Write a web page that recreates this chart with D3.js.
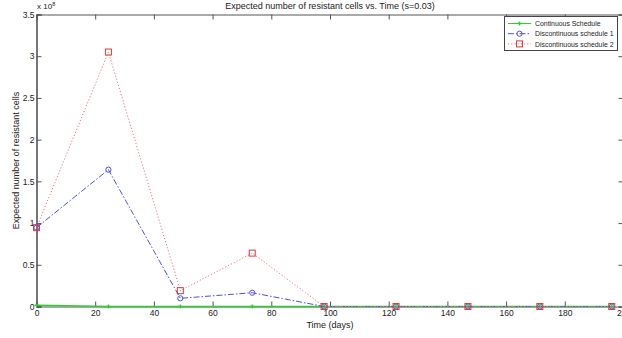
<!DOCTYPE html>
<html>
<head>
<meta charset="utf-8">
<script src="https://cdn.jsdelivr.net/npm/d3@7"></script>
<style>
  body { margin: 0; background: #fff; }
  svg { display: block; font-family: "Liberation Sans", Arial, sans-serif; }
  .axis text { font-size: 8.5px; fill: #222; }
  .axis path, .axis line { stroke: #555; }
</style>
</head>
<body>
<svg id="chart" width="622" height="338"></svg>
<script>
// x values (days) and expected resistant cells in units of 1e8
const days = [0, 24.5, 49, 73.5, 98, 122.5, 147, 171.5, 196]
const continuous = [0.015, 0, 0, 0, 0, 0, 0, 0, 0]
const discontinuous1 = [0.945, 1.64, 0.098, 0.165, 0, 0, 0, 0, 0]
const discontinuous2 = [0.945, 3.05, 0.19, 0.64, 0, 0, 0, 0, 0]
const xTicks = [0, 20, 40, 60, 80, 100, 120, 140, 160, 180, 200]
const yTicks = [0, 0.5, 1, 1.5, 2, 2.5, 3, 3.5]
const seriesNames = ['Continuous Schedule', 'Discontinuous schedule 1', 'Discontinuous schedule 2']

const svg = d3.select('#chart')
const margin = { top: 14.5, right: -1.5, bottom: 31.5, left: 36.5 }
const width = 622
const height = 338

const x = d3.scaleLinear().domain([0, 200]).range([margin.left, width - margin.right])
const y = d3.scaleLinear().domain([0, 3.5]).range([height - margin.bottom, margin.top])

// frame axes (ticks point inward like matlab)
svg.append('g').attr('class', 'axis')
  .attr('transform', `translate(0,${y(0)})`)
  .call(d3.axisBottom(x).tickValues(xTicks).tickSize(-5).tickPadding(3.5).tickFormat(d => d))
svg.append('g').attr('class', 'axis')
  .attr('transform', `translate(0,${y(3.5)})`)
  .call(d3.axisTop(x).tickValues(xTicks).tickSize(-5).tickFormat(''))
svg.append('g').attr('class', 'axis left')
  .attr('transform', `translate(${x(0)},0)`)
  .call(d3.axisLeft(y).tickValues(yTicks).tickSize(-5).tickPadding(2).tickFormat(d => d))
svg.append('g').attr('class', 'axis')
  .attr('transform', `translate(${x(200)},0)`)
  .call(d3.axisRight(y).tickValues(yTicks).tickSize(-5).tickFormat(''))
svg.select('.left .domain').attr('stroke', '#999').attr('stroke-width', 1.6)

const series = [
  { name: seriesNames[0], values: continuous, color: '#2ad02a', dash: null, marker: 'star' },
  { name: seriesNames[1], values: discontinuous1, color: '#5050dc', dash: '6,2,1.5,2', marker: 'circle' },
  { name: seriesNames[2], values: discontinuous2, color: '#e47878', dash: '1.2,2', marker: 'square' }
]

const line = d3.line().x((d, i) => x(days[i])).y(d => y(d))

function drawMarker (g, type, cx, cy, color) {
  if (type === 'circle') {
    g.append('circle').attr('cx', cx).attr('cy', cy).attr('r', 2.6)
      .attr('fill', 'none').attr('stroke', color).attr('stroke-width', 1)
  } else if (type === 'square') {
    g.append('rect').attr('x', cx - 3).attr('y', cy - 3).attr('width', 6).attr('height', 6)
      .attr('fill', 'none').attr('stroke', '#dd3a3a').attr('stroke-width', 1)
  } else {
    g.append('path').attr('transform', `translate(${cx},${cy})`)
      .attr('d', d3.symbol(d3.symbolCross, 9)())
      .attr('fill', color)
  }
}

series.forEach(s => {
  svg.append('path')
    .datum(s.values)
    .attr('d', line)
    .attr('fill', 'none')
    .attr('stroke', s.color)
    .attr('stroke-width', s.marker === 'star' ? 1.3 : 1)
    .attr('stroke-dasharray', s.dash)
  const g = svg.append('g')
  s.values.forEach((v, i) => drawMarker(g, s.marker, x(days[i]), y(v), s.color))
})

// title, labels, exponent
svg.append('text').attr('x', x(100)).attr('y', 9).attr('text-anchor', 'middle')
  .attr('font-size', 9).attr('fill', '#222')
  .text('Expected number of resistant cells vs. Time (s=0.03)')
svg.append('text').attr('x', x(100)).attr('y', 328).attr('text-anchor', 'middle')
  .attr('font-size', 9).attr('fill', '#222').text('Time (days)')
svg.append('text').attr('transform', `translate(19,${y(1.75)}) rotate(-90)`)
  .attr('text-anchor', 'middle').attr('font-size', 9).attr('fill', '#222')
  .text('Expected number of resistant cells')
const expo = svg.append('text').attr('x', 37).attr('y', 9).attr('font-size', 8).attr('fill', '#222')
expo.append('tspan').text('x 10')
expo.append('tspan').attr('dy', -3).attr('font-size', 5.5).text('8')

// legend
const legend = svg.append('g')
legend.append('rect').attr('x', 504.5).attr('y', 16.5).attr('width', 113).attr('height', 34)
  .attr('fill', '#fff').attr('stroke', '#444').attr('stroke-width', 1)
series.forEach((s, i) => {
  const ly = 23.5 + i * 10.2
  legend.append('line').attr('x1', 508).attr('x2', 531).attr('y1', ly).attr('y2', ly)
    .attr('stroke', s.color).attr('stroke-width', 1).attr('stroke-dasharray', s.dash)
  drawMarker(legend, s.marker, 519.5, ly, s.color)
  legend.append('text').attr('x', 535).attr('y', ly + 2.6).attr('font-size', 6.9)
    .attr('fill', '#222').text(s.name)
})
</script>
</body>
</html>
